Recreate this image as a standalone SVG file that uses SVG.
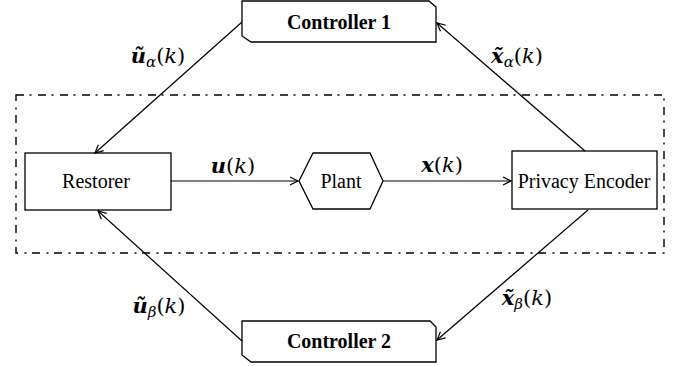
<svg xmlns="http://www.w3.org/2000/svg" width="677" height="366" viewBox="0 0 677 366">
<defs>
<style>
.box{fill:#fff;stroke:#000;stroke-width:1.3}
.t{font-size:20px;fill:#000;text-anchor:middle}
.b{font-weight:bold}
.m{font-size:21px;fill:#000;text-anchor:middle}
.ln{fill:none;stroke:#000;stroke-width:1.2}
.sub{font-size:15px;font-style:italic}
</style>
<marker id="ah" markerUnits="userSpaceOnUse" markerWidth="12" markerHeight="12" viewBox="0 0 12 12" refX="10" refY="6" orient="auto">
<path d="M2,2 L10,6 L2,10" fill="none" stroke="#000" stroke-width="1.2"/>
</marker>
</defs>
<rect x="16" y="95" width="648" height="158" fill="none" stroke="#000" stroke-width="1.4" stroke-dasharray="8,5.5,2,6.5"/>
<g id="controller1">
<path class="box" d="M242,1 H429 L436,7 V42 H251 L242,36 Z"/>
<text class="t b" font-family="Liberation Serif, DejaVu Serif, serif" x="339" y="29">Controller 1</text>
</g>
<g id="controller2">
<path class="box" d="M242,321 H430 L436,327 V362 H251 L242,355 Z"/>
<text class="t b" font-family="Liberation Serif, DejaVu Serif, serif" x="339" y="348">Controller 2</text>
</g>
<g id="restorer">
<rect class="box" x="25" y="153" width="146" height="57"/>
<text class="t" font-family="Liberation Serif, DejaVu Serif, serif" x="96" y="188">Restorer</text>
</g>
<g id="plant">
<path class="box" d="M299,181 L313,153 H370 L383,181 L370,209 H313 Z"/>
<text class="t" font-family="Liberation Serif, DejaVu Serif, serif" x="341" y="188">Plant</text>
</g>
<g id="encoder">
<rect class="box" x="512" y="151" width="145" height="58"/>
<text class="t" font-family="Liberation Serif, DejaVu Serif, serif" x="584" y="188">Privacy Encoder</text>
</g>
<g id="connectors">
<line class="ln" x1="171" y1="181" x2="298" y2="181" marker-end="url(#ah)"/>
<line class="ln" x1="383" y1="181" x2="511" y2="181" marker-end="url(#ah)"/>
<line class="ln" x1="242" y1="22" x2="95" y2="153" marker-end="url(#ah)"/>
<line class="ln" x1="585" y1="151" x2="437" y2="23" marker-end="url(#ah)"/>
<line class="ln" x1="242" y1="341" x2="98" y2="211" marker-end="url(#ah)"/>
<line class="ln" x1="588" y1="210" x2="437" y2="340" marker-end="url(#ah)"/>
</g>
<g id="labels" font-family="DejaVu Serif, Liberation Serif, serif">
<text class="m" x="233" y="173"><tspan font-weight="bold" font-style="italic">u</tspan>(<tspan font-style="italic">k</tspan>)</text>
<text class="m" x="442" y="172"><tspan font-weight="bold" font-style="italic">x</tspan>(<tspan font-style="italic">k</tspan>)</text>
<text class="m" x="158" y="63"><tspan font-weight="bold" font-style="italic">ũ</tspan><tspan class="sub" dy="4">α</tspan><tspan dy="-4">(</tspan><tspan font-style="italic">k</tspan>)</text>
<text class="m" x="517" y="63"><tspan font-weight="bold" font-style="italic">x̃</tspan><tspan class="sub" dy="4">α</tspan><tspan dy="-4">(</tspan><tspan font-style="italic">k</tspan>)</text>
<text class="m" x="159" y="313"><tspan font-weight="bold" font-style="italic">ũ</tspan><tspan class="sub" dy="4">β</tspan><tspan dy="-4">(</tspan><tspan font-style="italic">k</tspan>)</text>
<text class="m" x="527" y="305"><tspan font-weight="bold" font-style="italic">x̃</tspan><tspan class="sub" dy="4">β</tspan><tspan dy="-4">(</tspan><tspan font-style="italic">k</tspan>)</text>
</g>
</svg>
